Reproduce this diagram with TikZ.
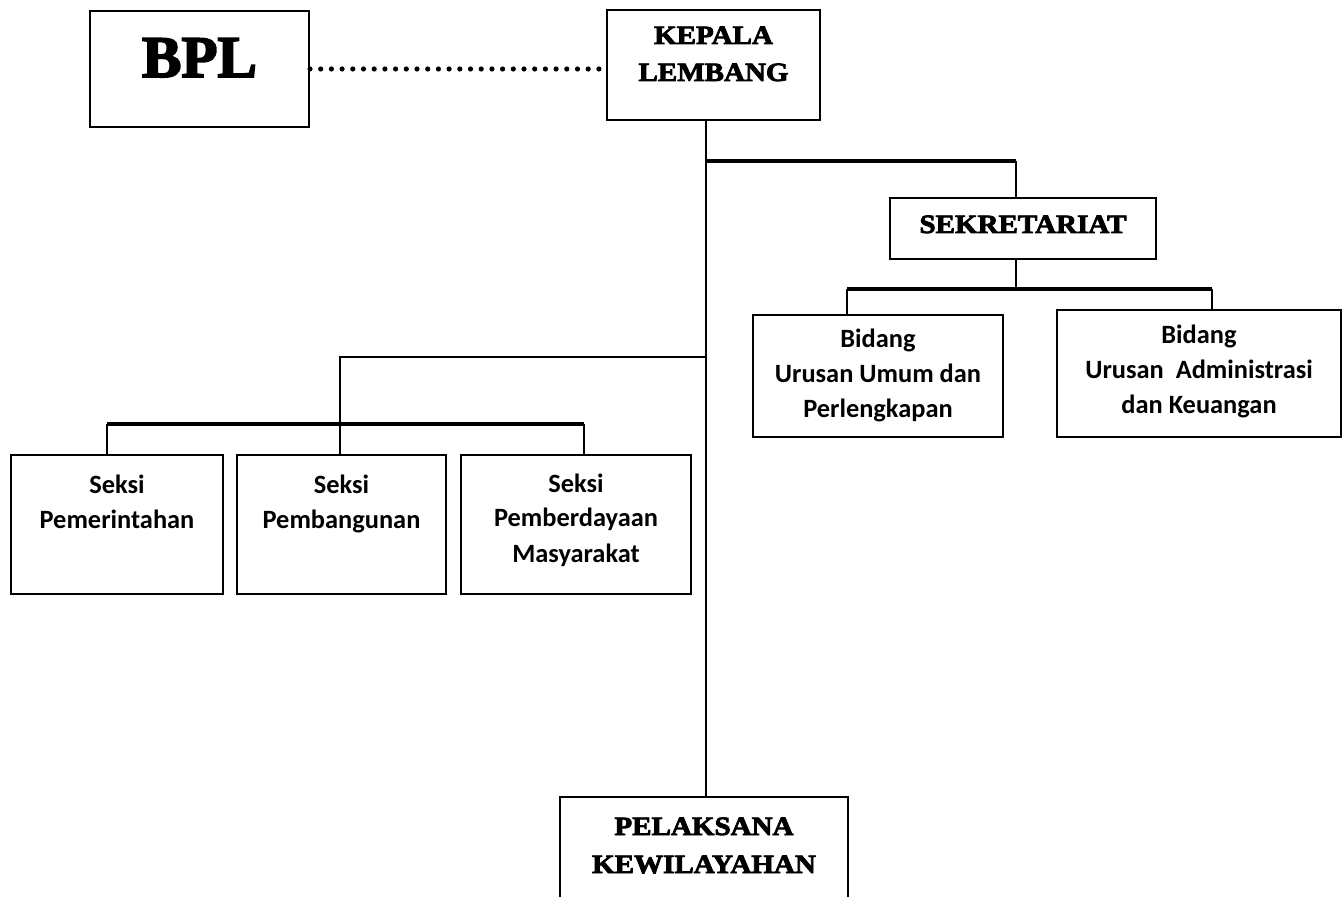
\documentclass[tikz,border=0pt]{standalone}
\usepackage{fontspec}
\newfontfamily\carlito{Carlito}
\newfontfamily\heavy[FakeBold=3,FakeStretch=1.1]{Liberation Serif Bold}
\newfontfamily\heavyb[FakeBold=3]{Liberation Serif Bold}
\begin{document}
\begin{tikzpicture}[
        x=0.5pt, y=-0.5pt,
        boxn/.style={draw, line width=1pt, inner sep=0pt, anchor=north west, align=center},
        capn/.style={font=\heavy\fontsize{13.2}{19}\selectfont},
        sansn/.style={font=\carlito\bfseries\fontsize{13.2}{17.5}\selectfont},
        thinl/.style={draw, line width=1pt},
        thickl/.style={draw, line width=1.7pt},
        dotl/.style={draw, line width=2.6pt, line cap=round, dash pattern=on 0pt off 5.35pt},
    ]
    \useasboundingbox (0,0) rectangle (1343,897);
    % top row
    \node[boxn, font=\heavyb\fontsize{29.5}{30}\selectfont, minimum width=109.5pt, text height=33pt, text depth=25pt] (bpl) at (89,10) {BPL};
    \node[boxn, capn, font=\heavy\fontsize{13.2}{18.5}\selectfont, minimum width=106.5pt, text height=35.5pt, text depth=19.5pt] (kepala) at (606,9) {KEPALA\\LEMBANG};
    % sekretariat and its fields
    \node[boxn, capn, minimum width=133pt, text height=17.5pt, text depth=13pt] (sek) at (889,197) {SEKRETARIAT};
    \node[boxn, sansn, minimum width=125pt, text height=51.5pt, text depth=9.5pt] (umum) at (752,314) {Bidang\\Urusan Umum dan\\Perlengkapan};
    \node[boxn, sansn, minimum width=142pt, text height=52pt, text depth=11.5pt] (adm) at (1056,309) {Bidang\\Urusan~ Administrasi\\dan Keuangan};
    % seksi
    \node[boxn, sansn, minimum width=106pt, text height=37pt, text depth=32.5pt] (pem) at (10,454) {Seksi\\Pemerintahan};
    \node[boxn, sansn, minimum width=104.5pt, text height=37pt, text depth=32.5pt] (bang) at (236,454) {Seksi\\Pembangunan};
    \node[boxn, sansn, minimum width=115pt, text height=53.5pt, text depth=16pt] (daya) at (460,454) {Seksi\\Pemberdayaan\\Masyarakat};
    % bottom
    \node[boxn, capn, minimum width=144pt, text height=38pt, text depth=44pt] (pel) at (559,796) {PELAKSANA\\KEWILAYAHAN};

    \coordinate (j0) at (706,119);
    \coordinate (j1) at (706,161);
    \coordinate (t1) at (1016,161);
    \coordinate (j2) at (1016,289);
    \coordinate (s1) at (847,289);
    \coordinate (s2) at (1212,289);
    \coordinate (j3) at (706,357);
    \coordinate (j4) at (340,357);
    \coordinate (k1) at (107,424);
    \coordinate (k2) at (340,424);
    \coordinate (k3) at (584,424);

    \draw[dotl] (bpl.east) -- (bpl.east -| kepala.west);
    \draw[thinl] (j0) -- (j0 |- pel.north);
    % to sekretariat
    \draw[thickl] (j1) -- (t1);
    \draw[thinl] (t1) -- (t1 |- sek.north);
    \draw[thinl] (t1 |- sek.south) -- (j2);
    \draw[thickl] (s1) -- (s2);
    \draw[thinl] (s1) -- (s1 |- umum.north);
    \draw[thinl] (s2) -- (s2 |- adm.north);
    % to seksi
    \draw[thinl] (j3) -- (j4) -- (k2);
    \draw[thickl] (k1) -- (k3);
    \draw[thinl] (k1) -- (k1 |- pem.north);
    \draw[thinl] (k2) -- (k2 |- bang.north);
    \draw[thinl] (k3) -- (k3 |- daya.north);
\end{tikzpicture}
\end{document}
